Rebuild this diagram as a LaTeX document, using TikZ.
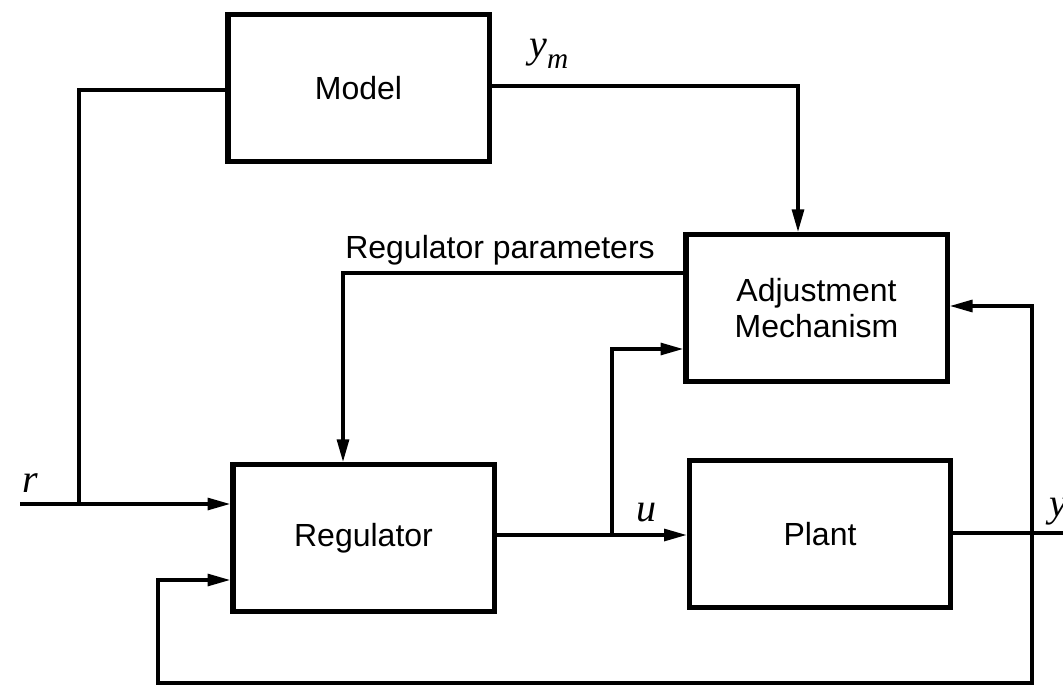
\documentclass[tikz,border=0pt]{standalone}
\usepackage{fontspec}
\setmainfont{Liberation Sans}
\newfontfamily\labfont{Liberation Serif}
\usetikzlibrary{arrows.meta}
\begin{document}
\begin{tikzpicture}[x=0.75pt,y=-0.75pt,
  blockbox/.style={draw, line width=4pt, inner sep=0pt, minimum width=196pt, minimum height=110pt,
    align=center, font=\fontsize{24}{27}\selectfont},
  conn/.style={line width=2.3pt},
  arr/.style={conn, -{Triangle[length=17pt,width=9pt]}},
  lab/.style={font=\fontsize{30}{32}\selectfont\labfont\itshape, inner sep=0pt}
]
\useasboundingbox (0,0) rectangle (1063,691);
\fill[white] (0,0) rectangle (1063,691);

% blocks
\node[blockbox] (model) at (358.5,88) {Model};
\node[blockbox] (adj) at (816.5,308) {Adjustment\\Mechanism};
\node[blockbox] (reg) at (363.5,538) {Regulator};
\node[blockbox] (plant) at (820,534) {Plant};

% coordinates
\coordinate (ymx) at (798,86);
\coordinate (rin) at (20,504);
\coordinate (rj) at (79,504);
\coordinate (rp) at (343,273);
\coordinate (uj) at (612,535);
\coordinate (ua) at (612,349);
\coordinate (yj) at (1032,533);
\coordinate (yout) at (1070,533);
\coordinate (fa) at (1032,306);
\coordinate (fb1) at (1032,683);
\coordinate (fb2) at (158,683);
\coordinate (fb3) at (158,580);

% model output to adjustment
\draw[arr] (model.east |- ymx) -| (adj.north -| ymx);
% reference
\draw[conn] (model.west |- 0,90) -| (rj);
\draw[arr] (rin) -- (reg.west |- rin);
% regulator parameters
\draw[arr] (adj.west |- rp) -| (reg.north -| rp);
% control signal
\draw[arr] (reg.east |- uj) -- (plant.west |- uj);
\draw[arr] (uj) |- (adj.west |- ua);
% plant output
\draw[conn] (plant.east |- yj) -- (yout);
\draw[arr] (yj) |- (adj.east |- fa);
\draw[arr] (yj) -- (fb1) -- (fb2) -- (fb3) -- (reg.west |- fb3);

% labels
\node[lab, anchor=base west] (ymlab) at (529,58) {y\raisebox{-8pt}{\fontsize{22}{24}\selectfont m}};
\node[lab] (rlab) at (30,483) {r};
\node[lab] (ulab) at (646,513) {u};
\node[lab, anchor=west] (ylab) at (1049,512) {y};
\node[anchor=base west, inner sep=0pt, font=\fontsize{24}{27}\selectfont] (rplab) at (345,259) {Regulator parameters};
\end{tikzpicture}
\end{document}
